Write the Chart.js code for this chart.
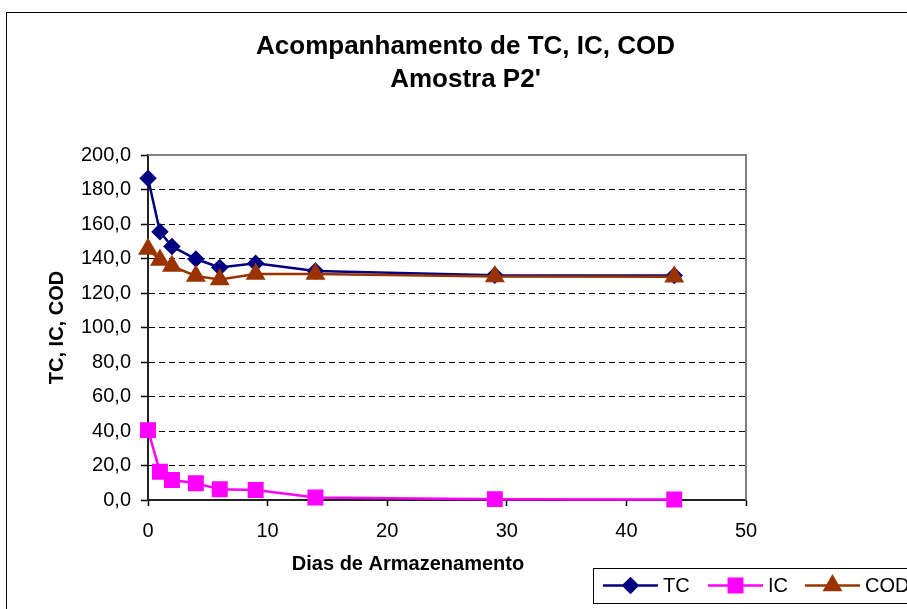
<!DOCTYPE html>
<html>
<head>
<meta charset="utf-8">
<title>Acompanhamento de TC, IC, COD</title>
<script src="https://cdn.jsdelivr.net/npm/chart.js@4"></script>
<style>
  html, body { margin: 0; padding: 0; background: #fff; overflow: hidden; }
  #frame {
    position: absolute;
    left: 6px;
    top: 12px;
    width: 917px;
    height: 640px;
    border: 1px solid #000;
    background: #fff;
  }
  canvas { display: block; }
</style>
</head>
<body>
<div id="frame">
  <canvas id="chart" width="917" height="640"></canvas>
</div>
<script>
// Data
const days = [0, 1, 2, 4, 6, 9, 14, 29, 44];
const tcValues = [186.5, 155.5, 147.0, 139.7, 134.8, 137.2, 132.8, 130.3, 130.1];
const icValues = [40.5, 16.4, 11.6, 9.7, 6.2, 5.8, 1.5, 0.5, 0.3];
const codValues = [145.5, 139.1, 135.6, 129.9, 127.9, 131.0, 131.0, 129.6, 129.4];
const seriesNames = ['TC', 'IC', 'COD'];
const xTickValues = [0, 10, 20, 30, 40, 50];
const yTickLabels = ['0,0', '20,0', '40,0', '60,0', '80,0', '100,0', '120,0', '140,0', '160,0', '180,0', '200,0'];

const FONT = "'Liberation Sans', Arial, Helvetica, sans-serif";

function toPoints(values) {
  return days.map((d, i) => ({ x: d, y: values[i] }));
}

// gray frame on top / right of the plot area
const plotFrame = {
  id: 'plotFrame',
  beforeDatasetsDraw(chart) {
    const { ctx, chartArea: a } = chart;
    ctx.save();
    ctx.strokeStyle = '#808080';
    ctx.lineWidth = 2;
    ctx.beginPath();
    ctx.moveTo(a.left, a.top);
    ctx.lineTo(a.right, a.top);
    ctx.lineTo(a.right, a.bottom);
    ctx.stroke();
    ctx.restore();
  }
};

// x axis title (sits left of centre in the original) and boxed legend
const extras = {
  id: 'extras',
  afterDraw(chart) {
    const ctx = chart.ctx;
    ctx.save();
    ctx.fillStyle = '#000';
    ctx.font = 'bold 20px ' + FONT;
    ctx.textAlign = 'center';
    ctx.textBaseline = 'middle';
    ctx.fillText('Dias de Armazenamento', 401, 551);

    // legend box
    const boxX = 586, boxY = 555, boxH = 35;
    ctx.strokeStyle = '#000';
    ctx.lineWidth = 1;
    ctx.strokeRect(boxX + 0.5, boxY + 0.5, 400, boxH);

    const cy = boxY + boxH / 2;
    const starts = [596, 701, 798];
    ctx.font = '20px ' + FONT;
    ctx.textAlign = 'left';
    chart.data.datasets.forEach((ds, i) => {
      const x0 = starts[i];
      ctx.strokeStyle = ds.borderColor;
      ctx.lineWidth = 2.5;
      ctx.beginPath();
      ctx.moveTo(x0, cy);
      ctx.lineTo(x0 + 55, cy);
      ctx.stroke();
      ctx.fillStyle = ds.pointBackgroundColor;
      ctx.strokeStyle = ds.pointBorderColor;
      Chart.helpers.drawPoint(ctx, {
        pointStyle: ds.pointStyle,
        radius: ds.pointRadius,
        rotation: 0,
        borderWidth: 1
      }, x0 + 27.5, cy);
      ctx.fillStyle = '#000';
      ctx.fillText(ds.label, x0 + 60, cy + 1);
    });
    ctx.restore();
  }
};

const ctx = document.getElementById('chart');

new Chart(ctx, {
  type: 'scatter',
  data: {
    datasets: [
      {
        label: seriesNames[0],
        data: toPoints(tcValues),
        showLine: true,
        borderColor: '#000080',
        backgroundColor: '#000080',
        pointBackgroundColor: '#000080',
        pointBorderColor: '#000080',
        borderWidth: 2.5,
        pointStyle: 'rectRot',
        pointRadius: 7,
        pointHoverRadius: 7,
        tension: 0,
        clip: false,
        order: 2
      },
      {
        label: seriesNames[1],
        data: toPoints(icValues),
        showLine: true,
        borderColor: '#FF00FF',
        backgroundColor: '#FF00FF',
        pointBackgroundColor: '#FF00FF',
        pointBorderColor: '#FF00FF',
        borderWidth: 2.5,
        pointStyle: 'rect',
        pointRadius: 9.5,
        pointHoverRadius: 9.5,
        tension: 0,
        clip: false,
        order: 1
      },
      {
        label: seriesNames[2],
        data: toPoints(codValues),
        showLine: true,
        borderColor: '#993300',
        backgroundColor: '#993300',
        pointBackgroundColor: '#993300',
        pointBorderColor: '#993300',
        borderWidth: 2.5,
        pointStyle: 'triangle',
        pointRadius: 9,
        pointHoverRadius: 9,
        tension: 0,
        clip: false,
        order: 0
      }
    ]
  },
  options: {
    responsive: false,
    animation: false,
    events: [],
    layout: { padding: 0 },
    plugins: {
      legend: { display: false },
      tooltip: { enabled: false },
      title: {
        display: true,
        text: ['Acompanhamento de TC, IC, COD', "Amostra P2'"],
        color: '#000',
        font: { family: FONT, size: 26, weight: 'bold', lineHeight: 1.27 },
        padding: { top: 17.5, bottom: 58.5 }
      }
    },
    scales: {
      x: {
        type: 'linear',
        min: 0,
        max: 50,
        afterBuildTicks(scale) {
          scale.ticks = xTickValues.map(v => ({ value: v }));
        },
        afterFit(scale) { scale.height = 153; },
        ticks: {
          color: '#000',
          font: { family: FONT, size: 20 },
          padding: 13,
          maxRotation: 0
        },
        grid: {
          drawOnChartArea: false,
          drawTicks: true,
          tickLength: 6,
          tickColor: '#000',
          tickWidth: 1.5
        },
        border: { color: '#222', width: 2 }
      },
      y: {
        min: 0,
        max: 200,
        afterFit(scale) { scale.width = 141; },
        ticks: {
          stepSize: 20,
          color: '#000',
          font: { family: FONT, size: 20 },
          padding: 10,
          callback: (v) => yTickLabels[Math.round(v / 20)]
        },
        grid: {
          color: (c) => (c.tick && (c.tick.value === 0 || c.tick.value === 200)) ? 'rgba(0,0,0,0)' : '#000',
          lineWidth: 1,
          tickLength: 7,
          tickColor: '#000',
          tickWidth: 1.5
        },
        border: { color: '#222', width: 2, dash: [6, 4] },
        title: {
          display: true,
          text: 'TC, IC, COD',
          color: '#000',
          font: { family: FONT, size: 20, weight: 'bold' },
          padding: { top: 38.5, bottom: 0 }
        }
      },
      // empty right side (the original chart runs past the window)
      spacer: {
        type: 'linear',
        position: 'right',
        display: true,
        afterFit(scale) { scale.width = 178; },
        ticks: { display: false },
        grid: { display: false },
        border: { display: false }
      }
    }
  },
  plugins: [plotFrame, extras]
});
</script>
</body>
</html>
